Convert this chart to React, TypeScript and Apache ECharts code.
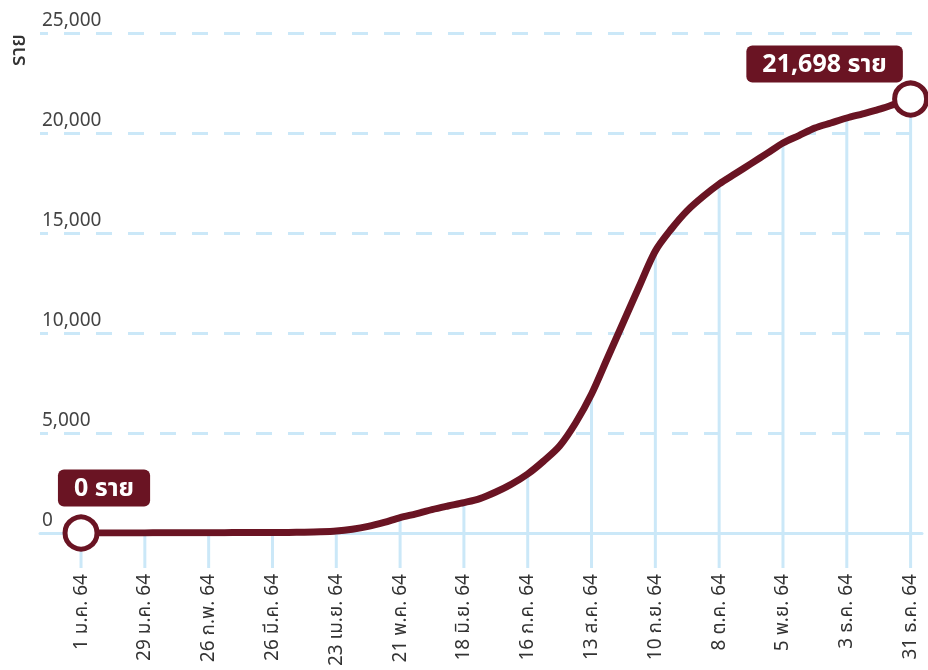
import React, { useEffect, useRef } from "react";
import * as echarts from "echarts";

// Cumulative deaths, one value per week starting 1 Jan 64 (day 0, 7, 14, ... 364)
const weeklyDeaths: number[] = [
  0, 0, 0, 2, 5, 8, 10, 12, 15, 18, 20, 22, 25, 30, 40, 60, 100, 190, 330, 530,
  770, 960, 1170, 1350, 1520, 1720, 2050, 2450, 2950, 3600, 4350, 5500, 6950,
  8750, 10550, 12350, 14100, 15200, 16120, 16830, 17450, 17960, 18470, 18980,
  19500, 19870, 20250, 20500, 20750, 20960, 21180, 21440, 21698,
];

const tickDays: number[] = [0, 28, 56, 84, 112, 140, 168, 196, 224, 252, 280, 308, 336, 364];
const tickLabels: string[] = [
  "1 ม.ค. 64", "29 ม.ค. 64", "26 ก.พ. 64", "26 มี.ค. 64", "23 เม.ย. 64", "21 พ.ค. 64",
  "18 มิ.ย. 64", "16 ก.ค. 64", "13 ส.ค. 64", "10 ก.ย. 64", "8 ต.ค. 64", "5 พ.ย. 64",
  "3 ธ.ค. 64", "31 ธ.ค. 64",
];

const yTicks = { min: 0, max: 25000, interval: 5000 };
const unit = "ราย";

const FONT = "'Noto Sans Thai', 'Noto Sans', 'Loma', 'Garuda', sans-serif";
const MAROON = "#6a1423";
const GRIDBLUE = "#cbe8f8";

export default function App() {
  const ref = useRef<HTMLDivElement>(null);
  useEffect(() => {
    if (!ref.current) return;
    const chart = echarts.init(ref.current, undefined, { renderer: "svg" });
    const lineData = weeklyDeaths.map((v, i) => [i * 7, v]);
    const dropData = tickDays.map((d) => [d, weeklyDeaths[d / 7]]);
    const last = weeklyDeaths.length - 1;
    const endData = [
      {
        value: [0, weeklyDeaths[0]],
        label: {
          show: true,
          position: "top",
          distance: 5,
          offset: [23, -3],
          formatter: () => `${weeklyDeaths[0].toLocaleString("en-US")} ${unit}`,
        },
      },
      {
        value: [last * 7, weeklyDeaths[last]],
        label: {
          show: true,
          position: "top",
          distance: 5,
          offset: [-86, 7],
          formatter: () => `${weeklyDeaths[last].toLocaleString("en-US")} ${unit}`,
        },
      },
    ];
    chart.setOption({
      animation: false,
      textStyle: { fontFamily: FONT },
      grid: { left: 40, right: 6, top: 33, bottom: 137, containLabel: false },
      xAxis: {
        type: "value",
        min: -18,
        max: 369,
        axisLine: { show: true, onZero: true, lineStyle: { color: GRIDBLUE, width: 3 } },
        axisTick: { show: false },
        splitLine: { show: false },
        axisLabel: {
          customValues: tickDays,
          formatter: (v: number) => tickLabels[tickDays.indexOf(v)] ?? "",
          rotate: 90,
          margin: 41,
          color: "#333",
          fontSize: 19,
          fontFamily: FONT,
        },
      },
      yAxis: {
        type: "value",
        min: yTicks.min,
        max: yTicks.max,
        interval: yTicks.interval,
        axisLine: { show: false },
        axisTick: { show: false },
        splitLine: { show: true, lineStyle: { color: GRIDBLUE, width: 3, type: [16, 16], dashOffset: 8 } },
        axisLabel: {
          inside: true,
          margin: 2,
          verticalAlign: "bottom",
          padding: [0, 0, 3, 0],
          fontSize: 19,
          color: "#444",
          fontFamily: FONT,
          formatter: (v: number) => v.toLocaleString("en-US"),
        },
      },
      graphic: [
        {
          type: "text",
          x: 18,
          y: 50,
          rotation: Math.PI / 2,
          style: {
            text: unit,
            fontSize: 21,
            fontWeight: 500,
            fill: "#333",
            align: "center",
            verticalAlign: "middle",
            fontFamily: FONT,
          },
        },
      ],
      series: [
        {
          type: "custom",
          clip: false,
          z: 1,
          data: dropData,
          renderItem: (params: any, api: any) => {
            const p = api.coord([api.value(0), api.value(1)]);
            const b = api.coord([api.value(0), 0]);
            return {
              type: "line",
              shape: { x1: p[0], y1: p[1], x2: p[0], y2: b[1] + 35 },
              style: { stroke: GRIDBLUE, lineWidth: 3 },
            };
          },
        },
        {
          type: "line",
          z: 3,
          data: lineData,
          smooth: 0.3,
          symbol: "none",
          lineStyle: { color: MAROON, width: 7, cap: "round", join: "round" },
        },
        {
          type: "scatter",
          z: 4,
          data: endData,
          symbol: "circle",
          symbolSize: 32,
          itemStyle: { color: "#fff", borderColor: MAROON, borderWidth: 5, opacity: 1 },
          label: {
            backgroundColor: MAROON,
            color: "#fff",
            borderRadius: 6,
            padding: [5, 16],
            fontSize: 25,
            lineHeight: 27,
            fontWeight: "bold",
            fontFamily: FONT,
          },
        },
      ],
    });
    return () => chart.dispose();
  }, []);
  return (
    <div
      ref={ref}
      style={{ position: "fixed", left: 0, top: 0, width: 928, height: 670 }}
    />
  );
}
